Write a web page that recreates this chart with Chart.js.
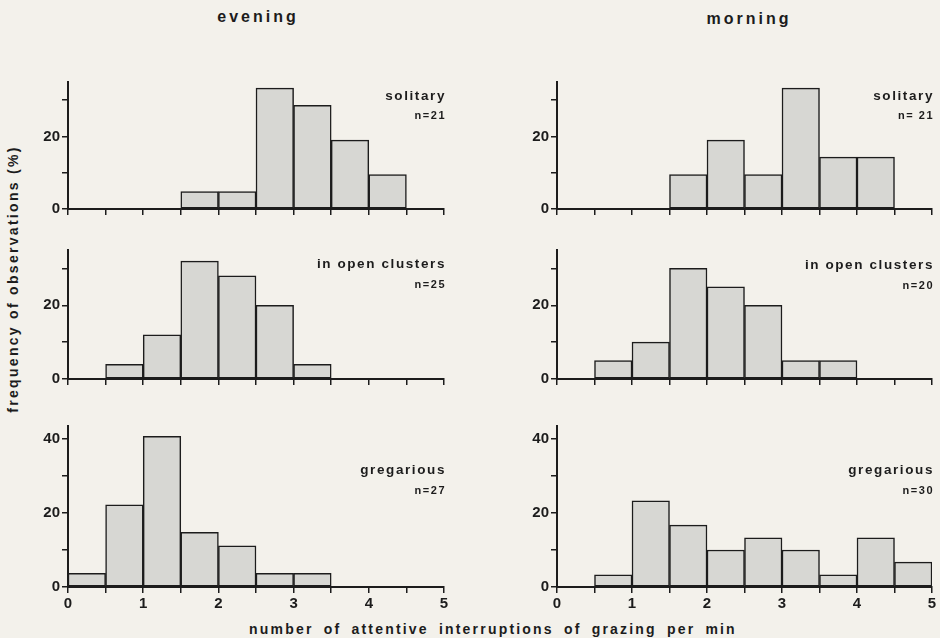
<!DOCTYPE html>
<html>
<head>
<meta charset="utf-8">
<script src="https://cdn.jsdelivr.net/npm/chart.js@4/dist/chart.umd.min.js"></script>
<style>
body{margin:0;background:#f3f1eb;width:940px;height:638px;position:relative;overflow:hidden;font-family:"Liberation Sans",Arial,sans-serif;font-weight:bold;color:#1c1c1c}
canvas{position:absolute}
.lbl{position:absolute;white-space:nowrap;transform:translate(-50%,-50%)}
</style>
</head>
<body>
<div class="lbl" style="left:258px;top:17px;font-size:16px;letter-spacing:3px">evening</div>
<div class="lbl" style="left:749px;top:19px;font-size:16px;letter-spacing:3px">morning</div>
<div class="lbl" style="left:13px;top:279px;font-size:14px;letter-spacing:2.3px;transform:translate(-50%,-50%) rotate(-90deg)">frequency of observations (%)</div>
<div class="lbl" style="left:493px;top:629px;font-size:14px;letter-spacing:2.2px;word-spacing:4px">number of attentive interruptions of grazing per min</div>

<canvas id="c1"></canvas>
<canvas id="c2"></canvas>
<canvas id="c3"></canvas>
<canvas id="c4"></canvas>
<canvas id="c5"></canvas>
<canvas id="c6"></canvas>

<script>
// bins of 0.5 interruptions/min, values = % of observations
const binMid = [0.25,0.75,1.25,1.75,2.25,2.75,3.25,3.75,4.25,4.75];

const eveningSolitary = [0,0,0,4.8,4.8,33.3,28.6,19.0,9.5,0];
const morningSolitary = [0,0,0,9.5,19.0,9.5,33.3,14.3,14.3,0];
const eveningOpen = [0,4,12,32,28,20,4,0,0,0];
const morningOpen = [0,5,10,30,25,20,5,5,0,0];
const eveningGregarious = [3.7,22.2,40.7,14.8,11.1,3.7,3.7,0,0,0];
const morningGregarious = [0,3.3,23.3,16.7,10,13.3,10,3.3,13.3,6.7];

const xTickLabels = [0,1,2,3,4,5];
const yTickValues = [0,10,20,30,40];
const yTickLabels = [0,20,40];

const ink = '#1c1c1c';
const font = '"Liberation Sans", Arial, sans-serif';

const yAxisW = 60, xAxisH = 30, padTop = 8, padRight = 14;

const panels = [
{id:'c1', values:eveningSolitary, yMax:35, name:'solitary', n:'n=21', left:68, right:444, top:79, bottom:209, xLabels:false, dy1:14, dy2:34},
{id:'c2', values:morningSolitary, yMax:35, name:'solitary', n:'n= 21', left:557, right:932, top:79, bottom:209, xLabels:false, dy1:14, dy2:34},
{id:'c3', values:eveningOpen, yMax:35, name:'in open clusters', n:'n=25', left:68, right:444, top:247, bottom:379, xLabels:false, dy1:14, dy2:35},
{id:'c4', values:morningOpen, yMax:35, name:'in open clusters', n:'n=20', left:557, right:932, top:247, bottom:379, xLabels:false, dy1:15, dy2:36},
{id:'c5', values:eveningGregarious, yMax:43.5, name:'gregarious', n:'n=27', left:68, right:444, top:423, bottom:587, xLabels:true, dy1:44, dy2:65},
{id:'c6', values:morningGregarious, yMax:43.5, name:'gregarious', n:'n=30', left:557, right:932, top:423, bottom:587, xLabels:true, dy1:44, dy2:65}
];

const groupLabel = {
id:'groupLabel',
afterDraw(chart, args, opts){
const {ctx, chartArea} = chart;
ctx.save();
ctx.fillStyle = ink;
ctx.textAlign = 'right';
ctx.textBaseline = 'middle';
ctx.font = 'bold 13.5px ' + font;
ctx.letterSpacing = '1.6px';
ctx.fillText(opts.name, chartArea.right + 2, chartArea.top + opts.dy1);
ctx.font = 'bold 11px ' + font;
ctx.letterSpacing = '1.5px';
ctx.fillText(opts.n, chartArea.right + 2, chartArea.top + opts.dy2);
ctx.restore();
}
};

panels.forEach(p => {

const cv = document.getElementById(p.id);
cv.width = p.right - p.left + yAxisW + padRight;
cv.height = p.bottom - p.top + padTop + xAxisH;
cv.style.left = (p.left - yAxisW) + 'px';
cv.style.top = (p.top - padTop) + 'px';

new Chart(cv,{

type:'bar',

data:{
datasets:[{
data: p.values.map((v,i) => ({x: binMid[i], y: v})),
backgroundColor:'#d7d7d3',
borderColor:ink,
borderWidth:1.5,
borderSkipped:false,
barPercentage:1,
categoryPercentage:1
}]
},

options:{
responsive:false,
animation:false,
devicePixelRatio:1,
layout:{padding:{top:padTop, right:padRight, left:0, bottom:0}},
plugins:{
legend:{display:false},
tooltip:{enabled:false},
groupLabel:{name:p.name, n:p.n, dy1:p.dy1, dy2:p.dy2}
},
scales:{
x:{
type:'linear',
min:0,
max:5,
offset:false,
afterFit(s){ s.height = xAxisH; },
grid:{offset:false, drawOnChartArea:false, drawTicks:true, tickLength:6, color:ink, lineWidth:1.5},
border:{display:true, color:ink, width:2},
ticks:{
stepSize:0.5,
autoSkip:false,
maxRotation:0,
padding:2,
color:ink,
font:{family:font, size:15, weight:'bold'},
callback:(v) => (p.xLabels && xTickLabels.includes(v)) ? v : ''
}
},
y:{
min:0,
max:p.yMax,
afterFit(s){ s.width = yAxisW; },
afterBuildTicks(s){ s.ticks = yTickValues.filter(v => v <= p.yMax).map(v => ({value:v})); },
grid:{drawOnChartArea:false, drawTicks:true, tickLength:6, color:ink, lineWidth:1.5},
border:{display:true, color:ink, width:2},
ticks:{
autoSkip:false,
padding:2,
color:ink,
font:{family:font, size:15, weight:'bold'},
callback:(v) => yTickLabels.includes(v) ? v : ''
}
}
}
},

plugins:[groupLabel]

});

});
</script>
</body>
</html>
